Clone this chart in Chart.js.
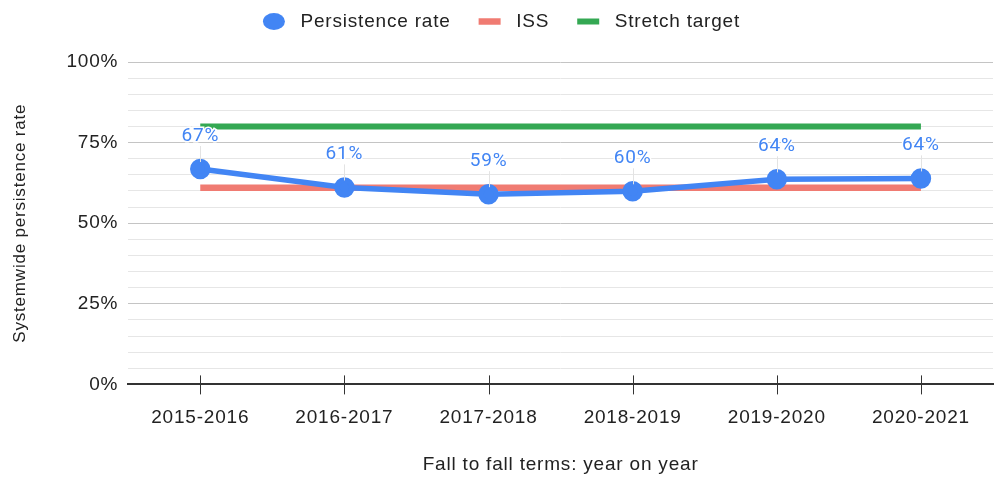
<!DOCTYPE html>
<html>
<head>
<meta charset="utf-8">
<script src="https://cdn.jsdelivr.net/npm/chart.js@4"></script>
<style>
  html, body { margin: 0; padding: 0; background: #fff; }
  #wrap { width: 994px; height: 477px; }
</style>
</head>
<body>
<div id="wrap"><canvas id="myChart" width="994" height="477"></canvas></div>
<script>
const terms = ['2015-2016', '2016-2017', '2017-2018', '2018-2019', '2019-2020', '2020-2021'];
const persistence = [66.8, 61.1, 59.0, 59.9, 63.6, 63.9];
const persistenceLabels = ['67%', '61%', '59%', '60%', '64%', '64%'];
const iss = [61, 61, 61, 61, 61, 61];
const stretch = [80, 80, 80, 80, 80, 80];

// el texto del original sale un poco más ancho
const wideText = {
    id: 'wideText',
    beforeInit(chart) {
        // espacio extra debajo de la leyenda
        const fit = chart.legend.fit;
        chart.legend.fit = function () {
            fit.call(this);
            this.height += 21;
        };
    },
    beforeLayout(chart) { chart.ctx.letterSpacing = '0.8px'; },
    beforeDraw(chart) { chart.ctx.letterSpacing = '0.8px'; }
};

// etiquetas encima de los puntos, con su pequeña línea gris
const pointLabels = {
    id: 'pointLabels',
    afterDatasetsDraw(chart) {
        const ctx = chart.ctx;
        const meta = chart.getDatasetMeta(0);
        ctx.save();
        meta.data.forEach((pt, i) => {
            ctx.strokeStyle = '#e3e3e3';
            ctx.lineWidth = 1;
            ctx.beginPath();
            ctx.moveTo(Math.round(pt.x) + 0.5, pt.y - 7);
            ctx.lineTo(Math.round(pt.x) + 0.5, pt.y - 23);
            ctx.stroke();
            ctx.font = '19px Roboto';
            ctx.textAlign = 'center';
            ctx.textBaseline = 'middle';
            ctx.lineWidth = 3;
            ctx.strokeStyle = '#fff';
            ctx.strokeText(persistenceLabels[i], pt.x, pt.y - 33);
            ctx.fillStyle = '#4285f4';
            ctx.fillText(persistenceLabels[i], pt.x, pt.y - 33);
        });
        ctx.restore();
    }
};

// marcas del eje x que cruzan la línea base
const xTicks = {
    id: 'xTicks',
    afterDraw(chart) {
        const ctx = chart.ctx;
        const x = chart.scales.x;
        const y0 = chart.chartArea.bottom;
        ctx.save();
        ctx.strokeStyle = '#333';
        ctx.lineWidth = 1;
        x.ticks.forEach((t, i) => {
            const px = Math.round(x.getPixelForTick(i)) + 0.5;
            ctx.beginPath();
            ctx.moveTo(px, y0 - 9);
            ctx.lineTo(px, y0 + 10);
            ctx.stroke();
        });
        ctx.restore();
    }
};

const ctx = document.getElementById('myChart').getContext('2d');
new Chart(ctx, {
    type: 'line',
    data: {
        labels: terms,
        datasets: [{
                label: 'Persistence rate',
                data: persistence,
                borderColor: '#4285f4',
                backgroundColor: '#4285f4',
                borderWidth: 5.5,
                pointRadius: 7.5,
                pointHoverRadius: 7.5,
                pointStyle: 'circle',
                tension: 0
            },
            {
                label: 'ISS',
                data: iss,
                borderColor: '#f07b72',
                backgroundColor: '#f07b72',
                borderWidth: 6.5,
                pointRadius: 0,
                pointStyle: 'line',
                borderCapStyle: 'butt'
            },
            {
                label: 'Stretch target',
                data: stretch,
                borderColor: '#34a853',
                backgroundColor: '#34a853',
                borderWidth: 6,
                pointRadius: 0,
                pointStyle: 'line',
                borderCapStyle: 'butt'
            }
        ]
    },
    options: {
        responsive: false,
        animation: false,
        layout: { autoPadding: false, padding: { left: 10, right: 1, top: -16, bottom: 1 } },
        scales: {
            y: {
                min: 0,
                max: 100,
                ticks: {
                    stepSize: 5,
                    autoSkip: false,
                    padding: 10,
                    color: '#222',
                    font: { family: 'Liberation Sans', size: 19 },
                    callback: v => (v % 25 === 0 ? v + '%' : '')
                },
                grid: {
                    drawTicks: false,
                    color: c => (c.tick && c.tick.value % 25 === 0 ? '#c4c4c4' : '#e6e6e6'),
                    lineWidth: c => (c.tick && c.tick.value === 0 ? 0 : 1)
                },
                border: { display: false },
                title: {
                    display: true,
                    text: 'Systemwide persistence rate',
                    color: '#222',
                    font: { family: 'Liberation Sans', size: 17 },
                    padding: { top: 0, bottom: 26 }
                }
            },
            x: {
                offset: true,
                afterFit(scale) {
                    scale.paddingLeft = 0;
                    scale.paddingRight = 0;
                },
                ticks: {
                    padding: 14,
                    color: '#222',
                    font: { family: 'Liberation Sans', size: 19 },
                    maxRotation: 0
                },
                grid: { display: false },
                border: { display: true, color: '#333', width: 2 },
                title: {
                    display: true,
                    text: 'Fall to fall terms: year on year',
                    color: '#222',
                    font: { family: 'Liberation Sans', size: 19 },
                    padding: { top: 10, bottom: 0 }
                }
            }
        },
        plugins: {
            legend: {
                position: 'top',
                labels: {
                    usePointStyle: true,
                    boxHeight: 12,
                    pointStyleWidth: 22,
                    padding: 28,
                    color: '#222',
                    font: { family: 'Liberation Sans', size: 19 },
                    generateLabels(chart) {
                        const items = Chart.defaults.plugins.legend.labels.generateLabels(chart);
                        items[0].lineWidth = 0;
                        items.forEach(it => { it.text = ' ' + it.text; });
                        return items;
                    }
                }
            },
            tooltip: { enabled: false }
        }
    },
    plugins: [wideText, pointLabels, xTicks]
});
</script>
</body>
</html>
